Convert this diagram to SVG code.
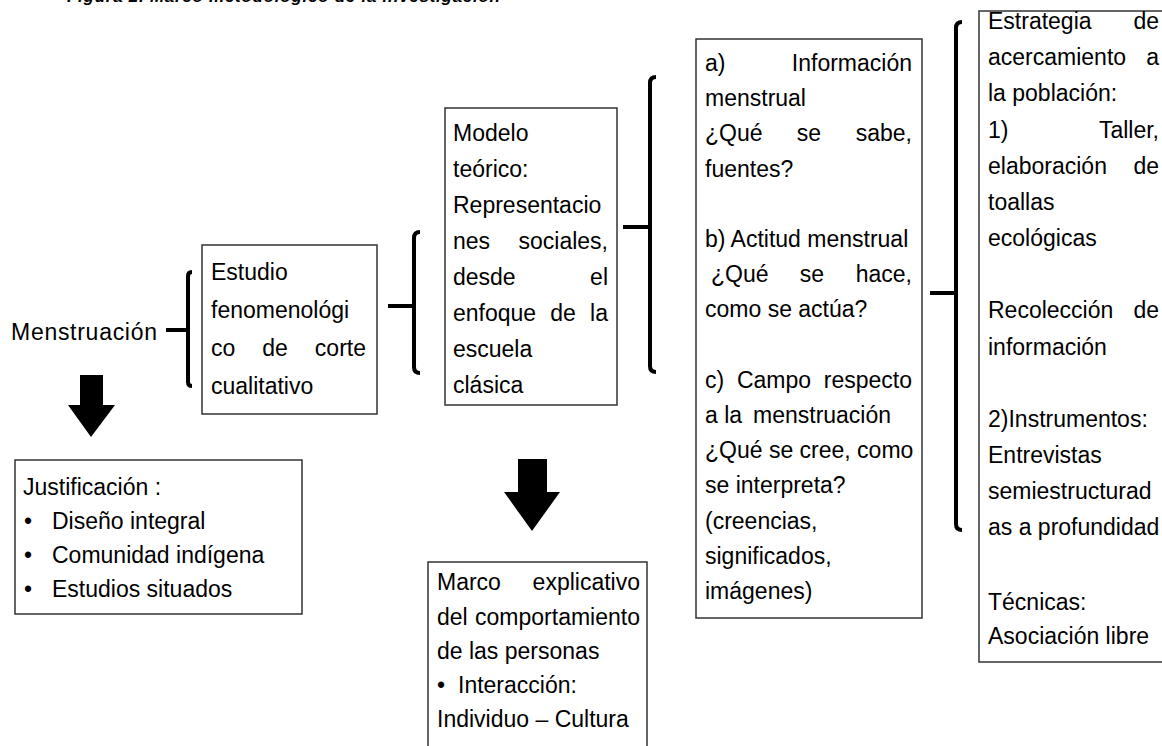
<svg xmlns="http://www.w3.org/2000/svg" width="1162" height="746" viewBox="0 0 1162 746">
<style>
text{font-family:"Liberation Sans",Arial,sans-serif;font-size:23px;fill:#000}
.e{text-anchor:end}
.m{text-anchor:middle}
.box{fill:#fff;stroke:#333;stroke-width:1.5}
.br{fill:none;stroke:#000;stroke-width:4}
.arr{fill:#000}
.title{font-size:17px;font-weight:bold;font-style:italic}
</style>
<rect width="1162" height="746" fill="#fff"/>
<text class="title" x="67" y="2" textLength="433">Figura 2. Marco metodológico de la investigación</text>

<g id="connectors">
<path class="br" d="M166,330 H188 M192,272 Q188,272 188,276 V382 Q188,386 192,386"/>
<path class="br" d="M388,306 H414 M420,232 Q414,232 414,238 V367 Q414,373 420,373"/>
<path class="br" d="M623,227 H650 M656,77 Q650,77 650,83 V366 Q650,372 656,372"/>
<path class="br" d="M930,293 H956 M962,22 Q956,22 956,28 V524 Q956,530 962,530"/>
<polygon class="arr" points="80,375 103,375 103,405 115,405 91,437 68,405 80,405"/>
<polygon class="arr" points="518,459 547,459 547,492 560,492 532,531 504,492 518,492"/>
</g>

<g id="menstruacion">
<text x="11" y="340" font-size="24.5" textLength="146">Menstruación</text>
</g>

<g id="estudio">
<rect class="box" x="202" y="245" width="175" height="169"/>
<text x="211" y="280">Estudio</text>
<text x="211" y="318">fenomenológi</text>
<text x="211" y="356">co</text><text class="m" x="275" y="356">de</text><text class="e" x="366" y="356">corte</text>
<text x="211" y="394">cualitativo</text>
</g>

<g id="modelo">
<rect class="box" x="445" y="108" width="172" height="297"/>
<text x="453" y="141">Modelo</text>
<text x="453" y="177">teórico:</text>
<text x="453" y="213">Representacio</text>
<text x="453" y="249">nes</text><text class="e" x="608" y="249">sociales,</text>
<text x="453" y="285">desde</text><text class="e" x="608" y="285">el</text>
<text x="453" y="321">enfoque</text><text class="m" x="563" y="321">de</text><text class="e" x="608" y="321">la</text>
<text x="453" y="357">escuela</text>
<text x="453" y="393">clásica</text>
</g>

<g id="dimensiones">
<rect class="box" x="696" y="39" width="226" height="579"/>
<text x="705" y="71">a)</text><text class="e" x="912" y="71">Información</text>
<text x="705" y="106">menstrual</text>
<text x="705" y="141">¿Qué</text><text class="m" x="809" y="141">se</text><text class="e" x="912" y="141">sabe,</text>
<text x="705" y="177">fuentes?</text>
<text x="705" y="247">b) Actitud menstrual</text>
<text x="711" y="282">¿Qué</text><text class="m" x="812" y="282">se</text><text class="e" x="912" y="282">hace,</text>
<text x="705" y="317">como se actúa?</text>
<text x="705" y="388">c)</text><text class="m" x="774" y="388">Campo</text><text class="e" x="912" y="388">respecto</text>
<text x="705" y="423">a la</text><text x="753" y="423">menstruación</text>
<text x="705" y="458">¿Qué se cree, como</text>
<text x="705" y="493">se interpreta?</text>
<text x="705" y="529">(creencias,</text>
<text x="705" y="564">significados,</text>
<text x="705" y="599">imágenes)</text>
</g>

<g id="estrategia">
<rect class="box" x="979" y="11" width="200" height="651"/>
<text x="988" y="29">Estrategia</text><text class="e" x="1159" y="29">de</text>
<text x="988" y="65">acercamiento</text><text class="e" x="1159" y="65">a</text>
<text x="988" y="101">la población:</text>
<text x="988" y="138">1)</text><text class="e" x="1159" y="138">Taller,</text>
<text x="988" y="174">elaboración</text><text class="e" x="1159" y="174">de</text>
<text x="988" y="210">toallas</text>
<text x="988" y="246">ecológicas</text>
<text x="988" y="318">Recolección</text><text class="e" x="1159" y="318">de</text>
<text x="988" y="355">información</text>
<text x="988" y="427">2)Instrumentos:</text>
<text x="988" y="463">Entrevistas</text>
<text x="988" y="499">semiestructurad</text>
<text x="988" y="535">as a profundidad</text>
<text x="988" y="610">Técnicas:</text>
<text x="988" y="644">Asociación libre</text>
</g>

<g id="justificacion">
<rect class="box" x="15" y="460" width="287" height="154"/>
<text x="23" y="495">Justificación :</text>
<text x="24" y="529">•</text><text x="52" y="529">Diseño integral</text>
<text x="24" y="563">•</text><text x="52" y="563">Comunidad indígena</text>
<text x="24" y="597">•</text><text x="52" y="597">Estudios situados</text>
</g>

<g id="marco">
<rect class="box" x="428" y="562" width="219" height="200"/>
<text x="437" y="590">Marco</text><text class="e" x="640" y="590">explicativo</text>
<text x="437" y="625">del</text><text class="e" x="640" y="625">comportamiento</text>
<text x="437" y="659">de las personas</text>
<text x="437" y="693">•</text><text x="458" y="693">Interacción:</text>
<text x="437" y="727">Individuo – Cultura</text>
</g>
</svg>
